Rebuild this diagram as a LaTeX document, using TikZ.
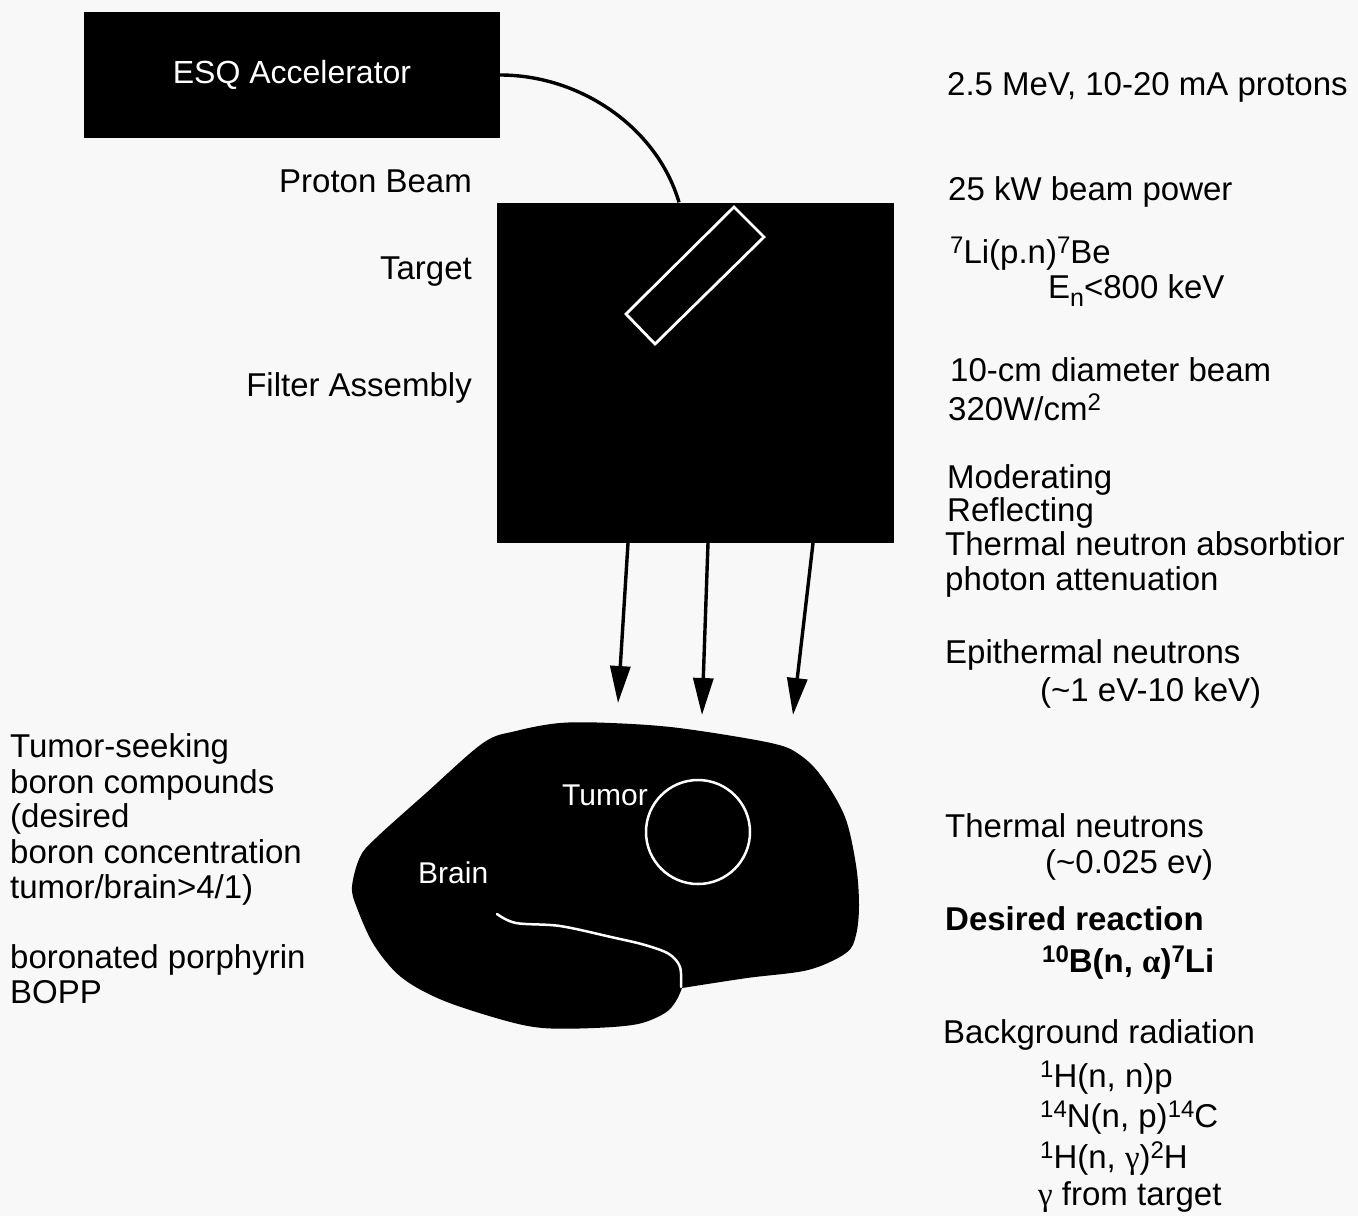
\documentclass[tikz,border=0pt]{standalone}
\usepackage{fontspec}
\setmainfont{Liberation Sans}
\newfontfamily\grk{Liberation Serif}
\usetikzlibrary{arrows.meta}
\definecolor{paper}{RGB}{248,248,248}
% raised / lowered indices for nuclide notation
\newcommand\hi[1]{\raisebox{10pt}{\fontsize{24}{24}\selectfont #1}}
\newcommand\lo[1]{\raisebox{-8pt}{\fontsize{25}{25}\selectfont #1}}

\begin{document}
\begin{tikzpicture}[x=1pt,y=-1pt,
  txt/.style={inner sep=0pt, anchor=base west, font=\fontsize{33}{35}\selectfont},
  lbl/.style={txt, anchor=base east},
  wtxt/.style={inner sep=0pt, anchor=base west, text=white, font=\fontsize{30}{32}\selectfont},
  ray/.style={line width=3.4pt, -{Triangle[width=20pt,length=37pt]}},
  block/.style={fill=black, inner sep=0pt},
]
\fill[paper] (0,0) rectangle (1358,1216);
\useasboundingbox (0,0) rectangle (1358,1216);

% accelerator
\node[block, minimum width=416pt, minimum height=126pt, text=white,
      font=\fontsize{32}{34}\selectfont] (esq) at (292,75) {ESQ Accelerator};

% filter assembly with target
\node[block, minimum width=397pt, minimum height=340pt] (filter) at (695,372.5) {};
\draw[white, line width=2.8pt] (734,207) -- (764,237) -- (655,344) -- (626,314) -- cycle;

% proton beam line
\draw[line width=3.4pt] (esq.east) .. controls +(80,0) and +(-22,-75) .. ([xshift=-16pt]filter.north);

\node[lbl] (lpb) at (472,192) {Proton Beam};
\node[lbl] (ltg) at (472,279) {Target};
\node[lbl] (lfa) at (472,396) {Filter Assembly};

% neutron beam arrows
\coordinate (s1) at (628,543); \coordinate (t1) at (618,703);
\coordinate (s2) at (708,543); \coordinate (t2) at (702,715);
\coordinate (s3) at (813,543); \coordinate (t3) at (793,715);
\draw[ray] (s1) -- (t1);
\draw[ray] (s2) -- (t2);
\draw[ray] (s3) -- (t3);

% head / brain
\fill[black] plot[smooth, tension=0.55] coordinates {
  (682,988) (676,1001) (665,1013) (638,1024) (594,1028) (543,1028)
  (503,1020) (442,1000) (401,977) (374,945) (357,908) (352,887)
  (360,857) (376,838) (425,794) (483,743) (516,731) (560,723)
  (611,723) (679,728) (771,743) (800,755) (822,777) (845,817)
  (856,865) (859,905) (856,935) (846,953) (808,970) (747,978) (682,988)};
\draw[white, line width=2.5pt, line cap=round] plot[smooth, tension=0.55] coordinates {
  (497,914) (516,923) (560,926) (611,937) (645,945) (669,954) (680,967) (681,987)};
\node[circle, draw=white, line width=2.5pt, minimum size=104pt, inner sep=0pt] (tumor) at (698,832) {};
\node[wtxt] (ltumor) at (562,805) {Tumor};
\node[wtxt] (lbrain) at (418,883) {Brain};

% left notes
\node[txt] (c1) at (10,757) {Tumor-seeking};
\node[txt] (c2) at (10,793) {boron compounds};
\node[txt] (c3) at (10,827) {(desired};
\node[txt] (c4) at (10,863) {boron concentration};
\node[txt] (c5) at (10,898) {tumor/brain>4/1)};
\node[txt] (c6) at (10,968) {boronated porphyrin};
\node[txt] (c7) at (10,1003) {BOPP};

% right notes
\node[txt] (r1) at (947,95) {2.5 MeV, 10-20 mA protons};
\node[txt] (r2) at (948,200) {25 kW beam power};
\node[txt] (r3) at (950,263) {\hi{7}Li(p.n)\hi{7}Be};
\node[txt] (r4) at (1048,298) {E\lo{n}<800 keV};
\node[txt] (r5) at (950,381) {10-cm diameter beam};
\node[txt] (r6) at (948,420) {320W/cm\hi{2}};
\node[txt] (r7) at (947,488) {Moderating};
\node[txt] (r8) at (947,521) {Reflecting};
\begin{scope}
  \clip (0,0) rectangle (1343,1216);
  \node[txt] (r9) at (945,555) {Thermal neutron absorbtion};
\end{scope}
\node[txt] (r10) at (945,590) {photon attenuation};
\node[txt] (r11) at (945,663) {Epithermal neutrons};
\node[txt] (r12) at (1040,701) {(\textasciitilde1 eV-10 keV)};
\node[txt] (r13) at (945,837) {Thermal neutrons};
\node[txt] (r14) at (1045,873) {(\textasciitilde0.025 ev)};
\node[txt, font=\fontsize{33}{35}\selectfont\bfseries] (r15) at (945,930) {Desired reaction};
\node[txt, font=\fontsize{33}{35}\selectfont\bfseries] (r16) at (1042,972) {\hi{10}B(n, {\grk α})\hi{7}Li};
\node[txt] (r17) at (943,1043) {Background radiation};
\node[txt] (r18) at (1040,1087) {\hi{1}H(n, n)p};
\node[txt] (r19) at (1040,1127) {\hi{14}N(n, p)\hi{14}C};
\node[txt] (r20) at (1040,1168) {\hi{1}H(n, {\grk γ})\hi{2}H};
\node[txt] (r21) at (1038,1205) {{\grk γ} from target};
\end{tikzpicture}
\end{document}
